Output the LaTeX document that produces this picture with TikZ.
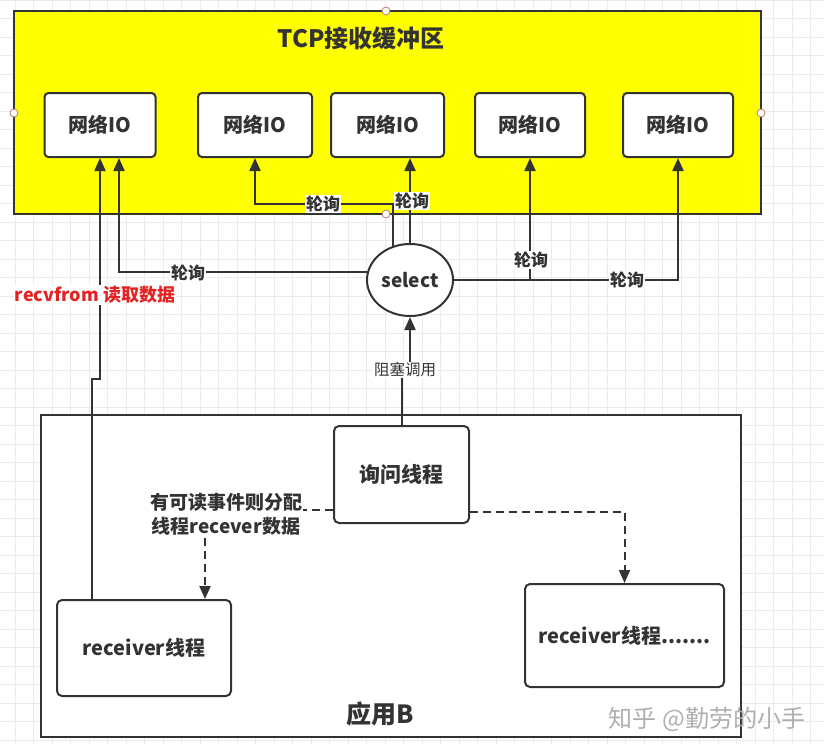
\documentclass[tikz,border=0pt]{standalone}
\usepackage{fontspec}
\setmainfont{Noto Sans CJK SC}
\usetikzlibrary{arrows.meta,shapes.geometric}

\definecolor{ink}{HTML}{333333}
\definecolor{gridc}{HTML}{EBEBEB}
\definecolor{bufyellow}{HTML}{FFFF00}
\definecolor{handle}{HTML}{B57E74}
\definecolor{redtxt}{HTML}{E32222}
\definecolor{mark}{HTML}{AFAFAF}

\newcommand{\fsz}[1]{\fontsize{#1}{1.25\dimexpr #1pt\relax}\selectfont}

\begin{document}
\begin{tikzpicture}[x=1pt,y=-1pt,
  line width=2pt, draw=ink,
  iobox/.style={draw=ink, fill=white, rounded corners=4pt, minimum height=64pt,
    inner sep=0pt, font=\fsz{20}\bfseries, text=ink},
  thread/.style={draw=ink, fill=white, rounded corners=5pt, inner sep=0pt,
    font=\fsz{20}\bfseries, text=ink},
  arr/.style={draw=ink, -{Triangle[length=13pt,width=11pt]}},
  darr/.style={arr, dash pattern=on 8pt off 5pt},
  lbl/.style={fill=white, inner sep=1pt, font=\fsz{17}\bfseries, text=ink},
  grip/.style={circle, draw=handle, fill=white, line width=0.8pt,
    minimum size=8pt, inner sep=0pt}
]
\useasboundingbox (0,0) rectangle (824,744);

% background grid
\fill[white] (0,0) rectangle (824,744);
\foreach \i in {0,...,44} {
  \draw[gridc, line width=0.8pt] (15+18.5*\i,0) -- (15+18.5*\i,744);
}
\foreach \j in {0,...,40} {
  \draw[gridc, line width=0.8pt] (0,18.5*\j) -- (824,18.5*\j);
}

% TCP receive buffer
\node[draw=ink, fill=bufyellow, minimum width=747pt, minimum height=203pt,
  inner sep=0pt] (tcp) at (387.5,112.5) {};
\node[font=\fsz{24}\bfseries, text=ink] (title) at (361,38) {TCP接收缓冲区};

\node[iobox, minimum width=111pt] (io1) at (100,125) {网络IO};
\node[iobox, minimum width=114pt] (io2) at (255,125) {网络IO};
\node[iobox, minimum width=113pt] (io3) at (387.5,125) {网络IO};
\node[iobox, minimum width=110pt] (io4) at (530,125) {网络IO};
\node[iobox, minimum width=110pt] (io5) at (678,125) {网络IO};

% application B
\node[draw=ink, fill=white, minimum width=700pt, minimum height=322pt,
  inner sep=0pt] (app) at (391,576) {};
\node[font=\fsz{25}\bfseries, text=ink] (appname) at (380,714) {应用B};

\node[thread, minimum width=135pt, minimum height=97pt, font=\fsz{21}\bfseries] (ask) at (401.5,474.5) {询问线程};
\node[thread, minimum width=174pt, minimum height=96pt] (recv1) at (144,648) {receiver线程};
\node[thread, minimum width=199pt, minimum height=103pt] (recv2) at (624.5,635.5) {receiver线程.......};

% select
\node[ellipse, draw=ink, fill=white, minimum width=86pt, minimum height=72pt,
  inner sep=0pt, font=\fsz{19}\bfseries, text=ink] (sel) at (410,280) {select};

% polling connectors
\draw[arr] (sel.170) -| ([xshift=19pt]io1.south);
\draw[arr] (sel.117) |- ([yshift=-46pt]io2.south) -- (io2.south);
\draw[arr] (sel.north) -- (sel.north |- io3.south);
\draw[arr] (sel.east) -| (io5.south);
\draw[arr] (sel.east -| io4.south) -- (io4.south);

\node[lbl] (p1) at (188,273) {轮询};
\node[lbl] (p2) at (323,204) {轮询};
\node[lbl] (p3) at (412,201) {轮询};
\node[lbl] (p4) at (531,260) {轮询};
\node[lbl] (p5) at (627,280) {轮询};

% receiver reads the data
\draw[arr] ([xshift=-52pt]recv1.north) -- ++(0,-220) -- ++(8,0) -- (io1.south);
\node[fill=white, inner sep=1pt, font=\fsz{18}\bfseries, text=redtxt] (rf) at (95,295) {recvfrom 读取数据};

% blocking call
\draw[arr] (ask.north) -- ++(0,-57) -| (sel.south);
\node[fill=white, inner sep=1pt, font=\fsz{15.5}, text=ink] (blk) at (405,370) {阻塞调用};

% dispatch to receiver threads
\draw[darr] ([yshift=-35pt]ask.west) -| ([xshift=61pt]recv1.north);
\node[fill=white, inner sep=1pt, align=center, font=\fontsize{19}{24}\selectfont\bfseries,
  text=ink] (disp) at (226,514) {有可读事件则分配\\线程recever数据};
\draw[darr] ([yshift=-37pt]ask.east) -| (recv2.north);

% selection handles
\node[grip] (h1) at (386,11) {};
\node[grip] (h2) at (14,113) {};
\node[grip] (h3) at (761,113) {};
\node[grip] (h4) at (386,214) {};

% watermark
\node[font=\fsz{24}, text=mark] (wm) at (707,719) {知乎 @勤劳的小手};
\end{tikzpicture}
\end{document}
